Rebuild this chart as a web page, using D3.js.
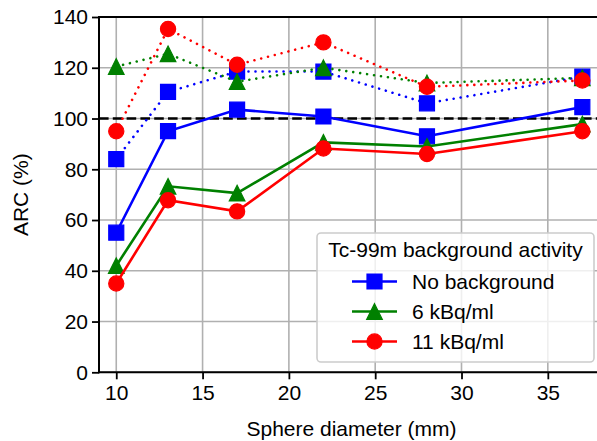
<!DOCTYPE html>
<html>
<head>
<meta charset="utf-8">
<script src="https://cdn.jsdelivr.net/npm/d3@7/dist/d3.min.js"></script>
<style>
  html, body { margin: 0; padding: 0; background: #fff; }
  svg { display: block; font-family: "Liberation Sans", Arial, sans-serif; }
</style>
</head>
<body>
<svg id="chart" width="597" height="441"></svg>
<script>
// Sphere diameters (mm)
const diameters = [10, 13, 17, 22, 28, 37];

// ARC (%) per background level: solid = one estimate, dotted = the other
const noBgSolid   = [55, 95, 103.5, 100.8, 93, 104.5];
const noBgDotted  = [84, 110.5, 118.5, 118.5, 106, 116.5];
const bg6Solid    = [42, 73.3, 70.6, 90.6, 89, 97.8];
const bg6Dotted   = [120.5, 125.5, 114.5, 120, 114, 116];
const bg11Solid   = [35, 67.8, 63.4, 88.2, 86, 95];
const bg11Dotted  = [95, 135.3, 121.2, 130, 112.5, 115];

const xTicks = [10, 15, 20, 25, 30, 35];
const yTicks = [0, 20, 40, 60, 80, 100, 120, 140];
const referenceLevel = 100;

const legendTitle = "Tc-99m background activity";
const seriesNames = ["No background", "6 kBq/ml", "11 kBq/ml"];
const seriesColors = ["#0000ff", "#008000", "#ff0000"];
const seriesMarkers = ["square", "triangle", "circle"];

const fontSize = "21px";
const svg = d3.select("#chart");
const plotLeft = 99, plotTop = 17, plotBottom = 372.3, plotRight = 599.6;

const x = d3.scaleLinear().domain([9, 38]).range([plotLeft, plotRight]);
const y = d3.scaleLinear().domain([0, 140]).range([plotBottom, plotTop]);

// grid
const grid = svg.append("g");
grid.selectAll("line.gx").data(xTicks).join("line")
  .attr("x1", d => x(d)).attr("x2", d => x(d))
  .attr("y1", plotTop).attr("y2", plotBottom)
  .attr("stroke", "#b0b0b0").attr("stroke-width", 1.6);
grid.selectAll("line.gy").data(yTicks).join("line")
  .attr("x1", plotLeft).attr("x2", plotRight)
  .attr("y1", d => y(d)).attr("y2", d => y(d))
  .attr("stroke", "#b0b0b0").attr("stroke-width", 1.6);

// axes
const xAxis = d3.axisBottom(x).tickValues(xTicks).tickSize(7).tickPadding(6).tickFormat(d3.format("d"));
const yAxis = d3.axisLeft(y).tickValues(yTicks).tickSize(7).tickPadding(4).tickFormat(d3.format("d"));

const gx = svg.append("g").attr("transform", `translate(0,${plotBottom})`).call(xAxis);
const gy = svg.append("g").attr("transform", `translate(${plotLeft},0)`).call(yAxis);
[gx, gy].forEach(g => {
  g.select(".domain").remove();
  g.selectAll(".tick line").attr("stroke", "#000").attr("stroke-width", 1.8);
  g.selectAll(".tick text").attr("fill", "#000").style("font-size", fontSize)
    .style("font-family", "'Liberation Sans', Arial, sans-serif");
});

// spines
svg.append("line").attr("x1", plotLeft).attr("x2", plotLeft).attr("y1", plotTop - 1).attr("y2", plotBottom + 1)
  .attr("stroke", "#000").attr("stroke-width", 2);
svg.append("line").attr("x1", plotLeft).attr("x2", plotRight).attr("y1", plotBottom).attr("y2", plotBottom)
  .attr("stroke", "#000").attr("stroke-width", 2);
svg.append("line").attr("x1", plotLeft).attr("x2", plotRight).attr("y1", plotTop).attr("y2", plotTop)
  .attr("stroke", "#000").attr("stroke-width", 2);

// reference line at 100 %
svg.append("line")
  .attr("x1", plotLeft).attr("x2", plotRight)
  .attr("y1", y(referenceLevel)).attr("y2", y(referenceLevel))
  .attr("stroke", "#000").attr("stroke-width", 2.6)
  .attr("stroke-dasharray", "9.6,4.2");

// marker shapes
function markerPath(kind, cx, cy) {
  if (kind === "square") {
    const h = 7.5;
    return `M${cx - h},${cy - h}H${cx + h}V${cy + h}H${cx - h}Z`;
  }
  if (kind === "triangle") {
    const h = 7.8;
    return `M${cx},${cy - h}L${cx + h},${cy + h}L${cx - h},${cy + h}Z`;
  }
  const r = 7.6;
  return `M${cx + r},${cy}A${r},${r} 0 1,1 ${cx - r},${cy}A${r},${r} 0 1,1 ${cx + r},${cy}Z`;
}

const line = d3.line().x((d, i) => x(diameters[i])).y(d => y(d));

const series = [
  { solid: noBgSolid, dotted: noBgDotted },
  { solid: bg6Solid, dotted: bg6Dotted },
  { solid: bg11Solid, dotted: bg11Dotted }
];

const plot = svg.append("g");
function drawSeries(values, i, dotted) {
  const g = plot.append("g");
  g.append("path").datum(values)
    .attr("d", line)
    .attr("fill", "none")
    .attr("stroke", seriesColors[i])
    .attr("stroke-width", 2.6)
    .attr("stroke-linecap", dotted ? "round" : "butt")
    .attr("stroke-dasharray", dotted ? "0.01,7" : null);
  g.selectAll("path.m").data(values).join("path")
    .attr("class", "m")
    .attr("d", (d, k) => markerPath(seriesMarkers[i], x(diameters[k]), y(d)))
    .attr("fill", seriesColors[i])
    .attr("stroke", seriesColors[i]).attr("stroke-width", 1.2);
}
series.forEach((s, i) => drawSeries(s.solid, i, false));
series.forEach((s, i) => drawSeries(s.dotted, i, true));

// axis labels
svg.append("text")
  .attr("x", 351.5).attr("y", 436)
  .attr("text-anchor", "middle").style("font-size", fontSize)
  .text("Sphere diameter (mm)");
svg.append("text")
  .attr("transform", `translate(28,${(plotTop + plotBottom) / 2}) rotate(-90)`)
  .attr("text-anchor", "middle").style("font-size", fontSize)
  .text("ARC (%)");

// legend
const lg = svg.append("g");
lg.append("rect")
  .attr("x", 317).attr("y", 233).attr("width", 277).attr("height", 129)
  .attr("rx", 4).attr("ry", 4)
  .attr("fill", "#fff").attr("fill-opacity", 0.8)
  .attr("stroke", "#cccccc").attr("stroke-width", 1.6);
lg.append("text").attr("x", 455.5).attr("y", 256.7)
  .attr("text-anchor", "middle").style("font-size", fontSize).text(legendTitle);
seriesNames.forEach((name, i) => {
  const cy = 281.5 + i * 30;
  lg.append("line").attr("x1", 352).attr("x2", 397).attr("y1", cy).attr("y2", cy)
    .attr("stroke", seriesColors[i]).attr("stroke-width", 2.6);
  lg.append("path").attr("d", markerPath(seriesMarkers[i], 374.5, cy))
    .attr("fill", seriesColors[i]).attr("stroke", seriesColors[i]).attr("stroke-width", 1.2);
  lg.append("text").attr("x", 412).attr("y", cy + 7)
    .style("font-size", fontSize).text(name);
});
</script>
</body>
</html>
